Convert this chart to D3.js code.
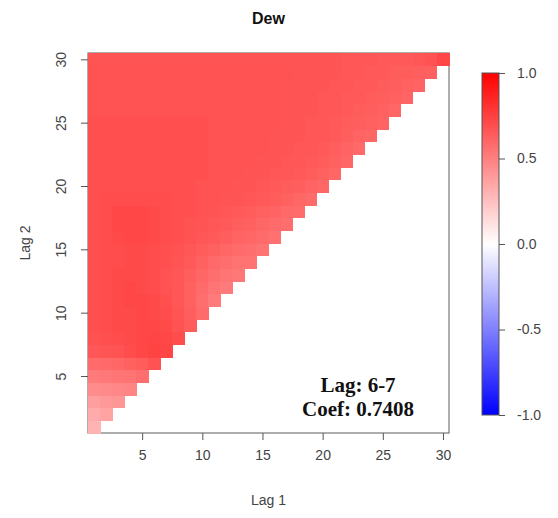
<!DOCTYPE html>
<html>
<head>
<meta charset="utf-8">
<script src="https://cdn.jsdelivr.net/npm/d3@7"></script>
<style>
  html, body { margin: 0; padding: 0; background: #fff; }
  svg { display: block; font-family: "Liberation Sans", Arial, sans-serif; }
</style>
</head>
<body>
<svg id="chart" width="558" height="518"></svg>
<script>
// ---- data ----
const title = "Dew";
const xLabel = "Lag 1";
const yLabel = "Lag 2";
const xTicks = [5, 10, 15, 20, 25, 30];
const yTicks = [5, 10, 15, 20, 25, 30];
const legendTicks = [1.0, 0.5, 0.0, -0.5, -1.0];
const bestLag = "6-7";
const bestCoef = 0.7408;
// coefRows[k] = coefficients for Lag 2 = k+1, Lag 1 = 1..k+1
const coefRows = [
  [0.30],
  [0.33,0.36],
  [0.38,0.40,0.41],
  [0.45,0.46,0.47,0.48],
  [0.52,0.53,0.54,0.55,0.57],
  [0.58,0.59,0.60,0.62,0.64,0.68],
  [0.66,0.67,0.68,0.70,0.72,0.7408,0.73],
  [0.68,0.69,0.70,0.71,0.72,0.73,0.72,0.70],
  [0.69,0.70,0.71,0.71,0.72,0.72,0.71,0.68,0.64],
  [0.69,0.70,0.71,0.71,0.72,0.71,0.70,0.67,0.63,0.58],
  [0.69,0.70,0.71,0.72,0.72,0.71,0.69,0.66,0.62,0.57,0.52],
  [0.69,0.70,0.71,0.72,0.71,0.70,0.68,0.66,0.62,0.58,0.54,0.52],
  [0.69,0.70,0.71,0.71,0.71,0.70,0.68,0.66,0.63,0.60,0.57,0.54,0.53],
  [0.69,0.70,0.70,0.71,0.71,0.70,0.69,0.67,0.65,0.62,0.59,0.57,0.55,0.55],
  [0.69,0.70,0.70,0.71,0.71,0.70,0.69,0.68,0.66,0.64,0.62,0.60,0.58,0.57,0.55],
  [0.69,0.70,0.71,0.72,0.72,0.71,0.70,0.69,0.68,0.66,0.65,0.63,0.61,0.60,0.58,0.56],
  [0.69,0.70,0.72,0.72,0.72,0.71,0.70,0.69,0.68,0.67,0.66,0.65,0.63,0.62,0.60,0.58,0.57],
  [0.69,0.70,0.72,0.72,0.72,0.71,0.70,0.69,0.69,0.68,0.67,0.66,0.65,0.64,0.62,0.61,0.59,0.58],
  [0.69,0.70,0.70,0.70,0.70,0.70,0.70,0.69,0.69,0.68,0.68,0.67,0.67,0.66,0.65,0.64,0.62,0.60,0.58],
  [0.69,0.69,0.69,0.69,0.69,0.69,0.69,0.69,0.69,0.68,0.68,0.68,0.67,0.67,0.66,0.65,0.64,0.63,0.61,0.60],
  [0.69,0.69,0.69,0.69,0.69,0.69,0.69,0.69,0.69,0.69,0.68,0.68,0.68,0.67,0.67,0.66,0.66,0.65,0.64,0.62,0.60],
  [0.69,0.69,0.69,0.69,0.69,0.69,0.69,0.69,0.69,0.69,0.68,0.68,0.68,0.68,0.67,0.67,0.66,0.66,0.65,0.64,0.62,0.60],
  [0.69,0.69,0.69,0.69,0.69,0.69,0.69,0.69,0.69,0.69,0.68,0.68,0.68,0.68,0.68,0.67,0.67,0.66,0.66,0.65,0.63,0.61,0.59],
  [0.69,0.69,0.69,0.69,0.69,0.69,0.69,0.69,0.69,0.69,0.68,0.68,0.68,0.68,0.68,0.67,0.67,0.67,0.66,0.66,0.65,0.63,0.61,0.60],
  [0.69,0.69,0.69,0.69,0.69,0.69,0.69,0.69,0.69,0.69,0.68,0.68,0.68,0.68,0.68,0.68,0.67,0.67,0.66,0.66,0.65,0.64,0.63,0.62,0.61],
  [0.68,0.68,0.68,0.68,0.68,0.68,0.68,0.68,0.68,0.68,0.68,0.68,0.68,0.68,0.68,0.68,0.67,0.67,0.67,0.66,0.66,0.65,0.64,0.63,0.62,0.60],
  [0.68,0.68,0.68,0.68,0.68,0.68,0.68,0.68,0.68,0.68,0.68,0.68,0.68,0.68,0.68,0.68,0.67,0.67,0.67,0.66,0.66,0.65,0.65,0.64,0.63,0.62,0.61],
  [0.68,0.68,0.68,0.68,0.68,0.68,0.68,0.68,0.68,0.68,0.68,0.68,0.68,0.68,0.68,0.68,0.67,0.67,0.67,0.67,0.66,0.66,0.65,0.65,0.64,0.63,0.62,0.61],
  [0.68,0.68,0.68,0.68,0.68,0.68,0.68,0.68,0.68,0.68,0.68,0.68,0.68,0.68,0.68,0.68,0.68,0.67,0.67,0.67,0.67,0.66,0.66,0.65,0.65,0.64,0.64,0.63,0.62],
  [0.67,0.67,0.67,0.67,0.67,0.67,0.67,0.67,0.67,0.67,0.67,0.67,0.67,0.67,0.67,0.67,0.67,0.67,0.67,0.67,0.67,0.66,0.66,0.66,0.65,0.65,0.65,0.66,0.68,0.72]
];

// ---- build cells ----
const cells = [];
coefRows.forEach((row, k) => {
  row.forEach((v, j) => cells.push({ lag1: j + 1, lag2: k + 1, v: v }));
});

const svg = d3.select("#chart");
const x = d3.scaleLinear().domain([0.5, 30.5]).range([88, 449]);
const y = d3.scaleLinear().domain([0.5, 30.5]).range([433, 53]);
const color = d3.scaleLinear().domain([-1, 0, 1]).range(["#0000ff", "#ffffff", "#ff0000"]);

// box (under the cells)
svg.append("rect")
  .attr("x", x(0.5)).attr("y", y(30.5))
  .attr("width", x(30.5) - x(0.5)).attr("height", y(0.5) - y(30.5))
  .attr("fill", "none").attr("stroke", "#777").attr("stroke-width", 1.2);

// cells
svg.append("g").attr("shape-rendering", "crispEdges")
  .selectAll("rect").data(cells).join("rect")
  .attr("x", d => x(d.lag1 - 0.5))
  .attr("y", d => y(d.lag2 + 0.5))
  .attr("width", d => x(d.lag1 + 0.5) - x(d.lag1 - 0.5) + 0.5)
  .attr("height", d => y(d.lag2 - 0.5) - y(d.lag2 + 0.5) + 0.5)
  .attr("fill", d => color(d.v));

// axes
const xAxis = svg.append("g").attr("transform", `translate(0,${y(0.5)})`)
  .call(d3.axisBottom(x).tickValues(xTicks).tickSize(7).tickPadding(10).tickFormat(d3.format("d")));
xAxis.select(".domain").remove();
xAxis.selectAll(".tick line").attr("stroke", "#555");
xAxis.selectAll("text").attr("font-size", 14).attr("fill", "#444")
  .attr("font-family", "Liberation Sans, Arial, sans-serif");

const yAxis = svg.append("g").attr("transform", `translate(${x(0.5)},0)`)
  .call(d3.axisLeft(y).tickValues(yTicks).tickSize(7).tickFormat(d3.format("d")));
yAxis.select(".domain").remove();
yAxis.selectAll(".tick line").attr("stroke", "#555");
yAxis.selectAll("text")
  .attr("font-size", 14).attr("fill", "#444")
  .attr("font-family", "Liberation Sans, Arial, sans-serif")
  .attr("x", null).attr("dy", null)
  .attr("text-anchor", "middle")
  .attr("transform", "translate(-22,0) rotate(-90)");

// title and labels
svg.append("text").attr("x", 268.5).attr("y", 24).attr("text-anchor", "middle")
  .attr("font-size", 16).attr("font-weight", "bold").attr("fill", "#111").text(title);
svg.append("text").attr("x", 268.5).attr("y", 505).attr("text-anchor", "middle")
  .attr("font-size", 14).attr("fill", "#444").text(xLabel);
svg.append("text").attr("transform", `translate(30,${(y(0.5) + y(30.5)) / 2}) rotate(-90)`)
  .attr("text-anchor", "middle").attr("font-size", 14).attr("fill", "#444").text(yLabel);

// annotation
const ann = svg.append("g").attr("font-family", "Liberation Serif, 'Times New Roman', serif")
  .attr("font-weight", "bold").attr("font-size", 21).attr("fill", "#111").attr("text-anchor", "middle");
ann.append("text").attr("x", 358).attr("y", 392).text("Lag: " + bestLag);
ann.append("text").attr("x", 358).attr("y", 416).text("Coef: " + bestCoef.toFixed(4));

// color bar
const ly = d3.scaleLinear().domain([-1, 1]).range([415, 73]);
const defs = svg.append("defs");
const grad = defs.append("linearGradient").attr("id", "cbar")
  .attr("x1", 0).attr("y1", 1).attr("x2", 0).attr("y2", 0);
[-1, 0, 1].forEach(v => grad.append("stop")
  .attr("offset", (v + 1) / 2).attr("stop-color", color(v)));
svg.append("rect").attr("x", 482).attr("y", ly(1)).attr("width", 17)
  .attr("height", ly(-1) - ly(1)).attr("fill", "url(#cbar)")
  .attr("stroke", "#555").attr("stroke-width", 1);
const lAxis = svg.append("g").attr("transform", "translate(499,0)")
  .call(d3.axisRight(ly).tickValues(legendTicks).tickSize(6).tickPadding(12).tickFormat(d3.format(".1f")));
lAxis.select(".domain").remove();
lAxis.selectAll(".tick line").attr("stroke", "#555");
lAxis.selectAll("text").attr("font-size", 14).attr("fill", "#444")
  .attr("font-family", "Liberation Sans, Arial, sans-serif")
  .text(d => d3.format(".1f")(d).replace("−", "-"));
</script>
</body>
</html>
